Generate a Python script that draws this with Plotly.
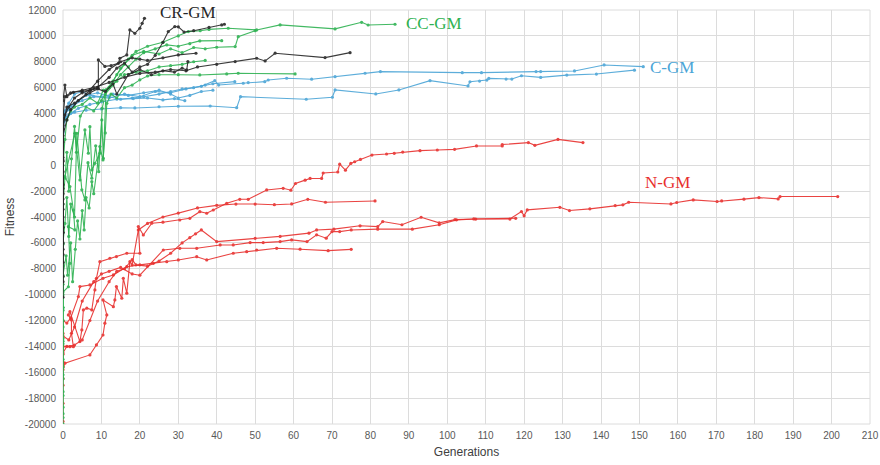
import plotly.graph_objects as go

# ---------------- data ----------------
# CR-GM (black)
k1_x = [0, 0, 0, 0, 0, 0, 0, 0, 0.5, 1, 2.7, 4.9, 7.1, 9.2, 9.2, 10.9, 12.5, 14.4, 14.8, 16.6, 17.4, 18.7, 20, 20.6, 21.2]
k1_y = [-10200, -8600, -6900, -5200, -3400, -1500, 1800, 5000, 6200, 5300, 5640, 5700, 5800, 5950, 8140, 7640, 7700, 7880, 8270, 8530, 10460, 10200, 10590, 10970, 11360]
k2_x = [0, 0, 0, 0, 0, 0, 0.5, 1.5, 3, 5, 7, 9, 12, 14, 16, 18, 20, 22, 24, 26, 27.4, 29.1, 30, 31.5, 34, 38, 41.3, 42]
k2_y = [-9000, -6500, -4000, -1800, 600, 2800, 3900, 4500, 5200, 5600, 5800, 6000, 6800, 7500, 7900, 7200, 7600, 7800, 8500, 9500, 10330, 10715, 10700, 10300, 10400, 10650, 10845, 10900]
k3_x = [0, 0, 0, 0, 0, 1, 3, 6, 9, 12, 15, 18, 20, 22, 26, 30, 34.6]
k3_y = [-7500, -4800, -2200, 400, 3100, 4500, 4800, 5500, 6500, 7400, 8000, 8300, 8200, 8100, 8300, 8530, 8657]
k4_x = [0, 0, 0, 0, 0.5, 2, 5, 8, 12, 16, 20, 24, 28, 32, 35, 40, 44.8, 50.4, 52.6, 55.2, 68.2, 74.7]
k4_y = [-5200, -2600, 300, 3600, 5300, 5600, 5800, 6000, 6400, 6800, 7100, 7200, 7400, 7300, 7600, 7800, 8010, 8270, 8060, 8660, 8320, 8705]
k5_x = [0, 0, 0, 0, 1, 2, 4, 7, 9, 11, 13, 14, 17, 20, 23, 26, 29, 31, 32.2, 32.5]
k5_y = [-6000, -3000, -500, 2300, 3500, 4300, 5000, 5600, 5900, 5700, 6300, 5500, 7000, 7400, 7000, 7300, 7200, 7500, 7370, 8010]

# CC-GM (green)
g1_x = [0, 0, 0, 0, 0, 0, 0, 0, 0, 0, 1.4, 1.8, 1.4, 3.1, 2.7, 1.8, 0.5, 3.1, 4.4, 5.7, 6.6, 7.0, 7.5, 8.3, 9.6, 10.1, 10.5, 11.2, 13, 15, 17, 19, 22, 26, 30, 32.6, 35.7, 38, 43, 50.4, 56.5, 70.8, 77.7, 79.4, 86.4]
g1_y = [-20000, -19500, -18700, -17500, -16200, -15000, -13800, -12500, -11000, -9800, -9390, -7580, -4750, -5000, -3460, -1650, -880, 2470, -1140, 2730, 930, 2980, -360, 150, 930, 3500, 540, 5820, 6500, 7500, 8200, 8800, 9200, 9500, 10000, 10330, 10400, 10500, 10590, 10460, 10850, 10540, 11050, 10840, 10900]
g2_x = [0, 0, 0, 0, 0, 0, 0.8, 1.2, 2, 2.5, 3.2, 3.8, 4.4, 5, 5.5, 6, 6.8, 7.5, 8, 9.6, 10.4, 11, 11.4, 12.5, 14, 16, 18, 20, 22, 25, 30, 35.6, 42.6, 45.6, 60.4]
g2_y = [-19200, -17800, -15600, -13400, -11000, -8500, -7000, -8500, -6000, -9000, -6500, -4300, -5700, -3500, -5000, -2500, -3300, -1270, -2200, 1440, 410, 2500, 4790, 5500, 5200, 6000, 6200, 6600, 6900, 7000, 7000, 6980, 7060, 7110, 7060]
g3_x = [0, 0, 0, 0, 0, 0.5, 1, 1.5, 2, 3, 3.6, 4.9, 5.7, 6.5, 7.5, 8.5, 9.3, 10.2, 11, 13, 15, 17, 19, 21, 24, 27, 30, 33, 35.6, 41.3]
g3_y = [-16500, -13600, -11200, -8600, -6000, -4500, -2500, -5500, -3000, -4000, 2470, -1900, -2680, 200, -1000, 1500, -500, 4400, 5500, 6200, 7000, 7600, 8200, 8700, 9000, 9300, 9200, 9400, 9610, 9630]
g4_x = [0, 0, 0, 0, 0.5, 1, 1.5, 2.2, 3, 3.5, 4.5, 6, 8, 10, 12, 14, 16, 18, 21, 25, 28, 31, 34, 37, 40, 44.8, 45.6, 50]
g4_y = [-12000, -9200, -6100, -3000, -1000, 1000, -2000, 500, 3000, 1000, 3800, 4500, 4200, 5000, 6000, 7000, 7800, 8500, 8800, 8600, 9000, 8700, 9100, 9000, 9120, 9170, 9940, 10400]
g5_x = [0, 0, 0, 0.5, 1, 2, 3, 5, 7, 9, 10.5, 12, 14, 16, 19, 22, 25, 28, 31, 34, 37]
g5_y = [-10000, -4800, 0, 2000, 3500, 4200, 4500, 4700, 5200, 4800, 5800, 6000, 6500, 7000, 7200, 7300, 7600, 7700, 7800, 8000, 8100]

# C-GM (blue)
b1_x = [0, 0, 0.5, 1.5, 3, 5, 8, 12, 16, 20, 24, 28, 32, 36, 39.5, 40.5, 46.9, 48.2, 52.5, 53.4, 58.2, 64.7, 70.8, 78.6, 82.6, 103.9, 108.9, 123.1, 124.3, 133.1, 140.8, 151]
b1_y = [2500, 3300, 4000, 4300, 4700, 5000, 5300, 5200, 5500, 5300, 5700, 5600, 5900, 6100, 6540, 6200, 6340, 6390, 6460, 6590, 6725, 6650, 6850, 7110, 7237, 7159, 7159, 7237, 7240, 7288, 7753, 7620]
b2_x = [0, 0, 0.5, 1.5, 3, 6, 10, 15, 18.7, 25, 30, 38.3, 45.2, 46.2, 63.3, 70.1, 70.8, 81.4, 87.4, 95.5, 105.4, 105.9, 108.4, 110.3, 110.8, 115.3, 116.8, 119.3, 124.3, 131.1, 138.8, 148.7]
b2_y = [2800, 3300, 3600, 3900, 4100, 4250, 4350, 4450, 4430, 4520, 4560, 4580, 4450, 5300, 5100, 5256, 5820, 5512, 5820, 6540, 6130, 6455, 6506, 6584, 6713, 6661, 6661, 6919, 6790, 6970, 7048, 7350]
b3_x = [0, 0.5, 1, 2, 4, 6, 9, 12, 15, 18, 21, 25, 28, 31, 34, 37, 39, 44.7]
b3_y = [3000, 3800, 4300, 4600, 5000, 5400, 5600, 5300, 5100, 5200, 5300, 5500, 5700, 5900, 6000, 6200, 6300, 6462]
b4_x = [0, 0.3, 1, 2, 4, 7, 10, 14, 18.3, 22, 26, 29, 31.7]
b4_y = [2600, 3400, 3700, 4000, 4400, 4700, 4900, 5100, 5150, 5200, 5050, 5150, 4990]
b5_x = [0, 0.5, 1.5, 3, 5, 7, 10, 13, 17, 21, 25, 28, 30, 33, 36, 39]
b5_y = [3500, 4200, 4800, 5500, 5700, 5400, 5300, 5500, 5400, 5600, 5800, 5500, 5200, 5400, 5700, 5800]

# N-GM (red)
r1_x = [0, 0, 0, 0, 0, 1.8, 2.7, 2.2, 2.2, 1.4, 1.8, 4.4, 4.9, 5.3, 6.2, 7.5, 8.3, 8.7, 9.6, 12.2, 13.9, 16.6, 20, 19.6, 20.9, 23.1, 26, 30.4, 33, 35.6, 37.4, 39.1, 42.6, 46, 48.2, 53, 57.3, 59.3, 60.5, 63, 64.3, 67.3, 67.7, 71.5, 72, 73.5, 74.9, 75.9, 77.4, 80.4, 84.2, 86.2, 88.4, 92.9, 97.4, 101.9, 107.6, 114.3, 114.3, 121.1, 122.8, 128.8, 135.3]
r1_y = [-19800, -18400, -17000, -15600, -14000, -14020, -14020, -12990, -11960, -11570, -11320, -13630, -12730, -11180, -11050, -11180, -9640, -8740, -7450, -7190, -7060, -6800, -6800, -4740, -5390, -4480, -4400, -4230, -4100, -3590, -3710, -3460, -2940, -2630, -2630, -1910, -1780, -1930, -1410, -1150, -1020, -1020, -600, -520, 80, -380, 140, 270, 450, 790, 870, 920, 1020, 1130, 1180, 1230, 1490, 1490, 1600, 1750, 1540, 2000, 1750]
r2_x = [0, 0, 0.5, 7.0, 8.7, 10.4, 10.9, 11.4, 10.4, 13.1, 13.5, 13.9, 15.3, 15.7, 16.6, 17.4, 18, 19.6, 22, 26, 30, 35, 40, 45, 50, 55, 59.5, 63.7, 68.3, 81.2]
r2_y = [-16500, -15800, -15300, -14660, -13890, -13120, -12210, -11570, -10410, -10930, -10410, -9380, -10280, -8740, -9890, -7450, -7700, -5000, -4500, -4000, -3700, -3300, -3100, -3000, -3000, -3050, -2990, -2630, -2860, -2760]
r3_x = [0, 0, 1, 2, 4.0, 4.4, 7.0, 10.4, 13.1, 16.6, 20, 23.5, 27, 30, 34.8, 37.4, 44.3, 47.8, 50.4, 55.6, 61.7, 69, 75]
r3_y = [-13000, -12000, -12200, -11800, -10150, -9380, -9250, -8740, -8480, -7840, -7700, -7580, -7450, -7320, -7070, -7320, -6800, -6680, -6550, -6420, -6490, -6600, -6500]
r4_x = [0, 0, 1.5, 3, 5, 8, 10, 12, 15, 18, 20, 26.1, 30.4, 34.8, 40.9, 44.3, 48.7, 52.1, 56.5, 59.5, 63.5, 66, 68.5, 70, 72, 75, 81.9, 90.9, 97.9, 102.4, 107.4, 116.3, 119.3, 120, 120.8, 129.3, 131.8, 137.1, 143.7, 145.7, 147.2, 158.2, 159.7, 164, 170.2, 171.4, 177.2, 181.1, 186.1, 186.6, 201.6]
r4_y = [-14600, -13200, -13500, -12500, -10500, -9000, -8400, -8200, -7900, -8400, -8500, -6550, -6420, -6420, -6160, -6160, -5980, -5980, -5900, -5770, -5900, -5380, -5640, -5130, -5130, -5000, -4940, -4940, -4600, -4220, -4160, -4160, -3580, -3910, -3450, -3250, -3500, -3370, -3120, -3060, -2860, -2990, -2880, -2680, -2800, -2760, -2620, -2500, -2600, -2420, -2420]
r5_x = [0, 0, 1, 3, 5, 7, 9, 12, 14, 16, 18, 19, 22, 25, 28, 31, 33, 34.5, 36, 40, 50, 56.5, 64, 66, 70.5, 77.3, 81.9, 83.2, 88.2, 93.2, 97.9, 102, 106.9, 117.8]
r5_y = [-15200, -14500, -14000, -13900, -13500, -12000, -10500, -9000, -8200, -8000, -7300, -7700, -7800, -7400, -6800, -6000, -5600, -5300, -5000, -5900, -5650, -5500, -5250, -5000, -4940, -4680, -4740, -4350, -4600, -4020, -4450, -4200, -4150, -4100]

groups = [
    ("CR-GM", "rgb(38,38,38)", [(k1_x, k1_y), (k2_x, k2_y), (k3_x, k3_y), (k4_x, k4_y), (k5_x, k5_y)]),
    ("C-GM", "rgb(75,165,215)", [(b1_x, b1_y), (b2_x, b2_y), (b3_x, b3_y), (b4_x, b4_y), (b5_x, b5_y)]),
    ("N-GM", "rgb(232,48,46)", [(r1_x, r1_y), (r2_x, r2_y), (r3_x, r3_y), (r4_x, r4_y), (r5_x, r5_y)]),
    ("CC-GM", "rgb(46,178,82)", [(g1_x, g1_y), (g2_x, g2_y), (g3_x, g3_y), (g4_x, g4_y), (g5_x, g5_y)]),
]

label_text = ["CR-GM", "CC-GM", "C-GM", "N-GM"]
label_x = [32.5, 96.5, 158.5, 157.4]
label_y = [11770, 10920, 7520, -1370]
label_color = ["rgb(38,38,38)", "rgb(46,178,82)", "rgb(75,165,215)", "rgb(232,48,46)"]

x_ticks = list(range(0, 211, 10))
y_ticks = list(range(-20000, 12001, 2000))
y_tick_text = [str(v) for v in y_ticks]
x_tick_text = [str(v) for v in x_ticks]

# ---------------- figure ----------------
fig = go.Figure()
draw_order = ["N-GM", "C-GM", "CC-GM", "CR-GM"]
for name in draw_order:
    for gname, color, runs in groups:
        if gname != name:
            continue
        for xs, ys in runs:
            fig.add_trace(go.Scatter(
                x=xs, y=ys, mode="lines+markers",
                line=dict(color=color, width=1.1),
                marker=dict(color=color, size=3.2),
                opacity=0.9, showlegend=False, hoverinfo="skip"))

for t, x, y, c in zip(label_text, label_x, label_y, label_color):
    fig.add_annotation(x=x, y=y, text=t, showarrow=False, xanchor="center", yanchor="middle",
                       font=dict(family="Liberation Serif", size=17, color=c))

fig.update_layout(
    width=880, height=465,
    margin=dict(l=63, r=10, t=10, b=41),
    paper_bgcolor="white", plot_bgcolor="white",
    font=dict(family="Liberation Sans", color="#595959"),
)
fig.update_xaxes(range=[0, 210], tickvals=x_ticks, ticktext=x_tick_text, showgrid=True,
                 gridcolor="#dcdcdc", gridwidth=1, zeroline=False, showline=False, ticks="",
                 automargin=False, ticklabelstandoff=4,
                 tickfont=dict(size=10, color="#595959"),
                 title=dict(text="Generations", font=dict(size=12, color="#404040"), standoff=7))
fig.update_yaxes(range=[-20000, 12000], tickvals=y_ticks, ticktext=y_tick_text, showgrid=True,
                 gridcolor="#dcdcdc", gridwidth=1, zeroline=False, showline=False, ticks="",
                 automargin=False, ticklabelstandoff=6,
                 tickfont=dict(size=10, color="#595959"),
                 title=dict(text="Fitness", font=dict(size=12, color="#404040"), standoff=7))
fig.add_shape(type="rect", xref="paper", yref="paper", x0=0, y0=0, x1=1, y1=1,
              line=dict(color="#dcdcdc", width=1), layer="below")

# remove the default page margin so the figure fills the 880x465 window exactly
fig.write_html("out.html", config={"displayModeBar": False},
               post_script="document.body.style.margin='0px';")
